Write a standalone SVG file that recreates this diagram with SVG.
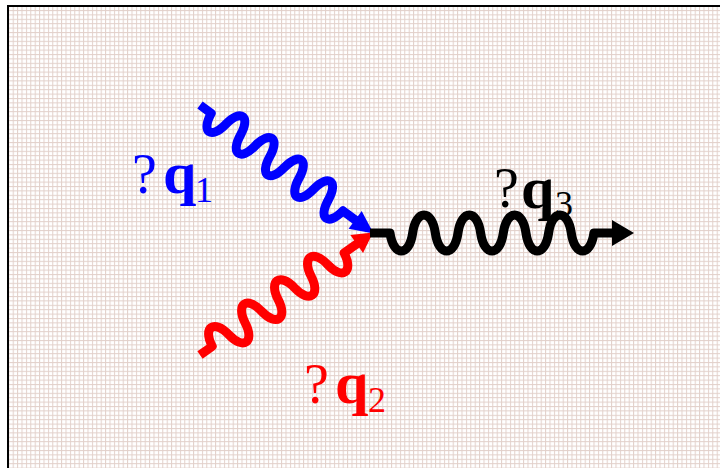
<svg xmlns="http://www.w3.org/2000/svg" width="720" height="468" viewBox="0 0 720 468">
  <defs>
    <!-- fine graph-paper background -->
    <pattern id="grid" x="8.3" y="5.6" width="4.4" height="4.4" patternUnits="userSpaceOnUse">
      <rect width="4.4" height="4.4" fill="#ffffff"/>
      <rect x="0" y="0" width="1" height="4.4" fill="#e2d0ca"/>
      <rect x="0" y="0" width="4.4" height="1" fill="#e2d0ca"/>
    </pattern>
  </defs>
  <style>
    .wave { fill: none; stroke-width: 9; stroke-linejoin: round; stroke-linecap: butt; }
    .lbl { font-family: "Liberation Serif", "Times New Roman", serif; font-size: 56px; }
    .q { font-weight: bold; font-size: 60px; }
    .sub { font-size: 36px; }
  </style>

  <rect width="720" height="468" fill="#ffffff"/>
  <rect x="9" y="7" width="711" height="461" fill="url(#grid)"/>
  <!-- frame: top and left edges -->
  <rect x="7" y="5" width="713" height="2" fill="#000"/>
  <rect x="7" y="5" width="2" height="463" fill="#000"/>

  <g id="connectors">
    <!-- incoming photon q1 -->
    <g id="wave-q1" transform="translate(200,105) rotate(36.5)">
      <path class="wave" stroke="#0000ff" d="M0,0 H14
        c2.7,21.3 15.5,21.3 18.2,0
        c2.7,-21.3 15.5,-21.3 18.2,0
        c2.7,21.3 15.5,21.3 18.2,0
        c2.7,-21.3 15.5,-21.3 18.2,0
        c2.7,21.3 15.5,21.3 18.2,0
        c2.7,-21.3 15.5,-21.3 18.2,0
        c2.7,21.3 15.5,21.3 18.2,0
        c2.7,-21.3 15.5,-21.3 18.2,0
        c2.7,21.3 15.5,21.3 18.2,0
        H196"/>
      <polygon points="193,-11 216,0 193,11" fill="#0000ff"/>
    </g>
    <!-- incoming photon q2 -->
    <g id="wave-q2" transform="translate(200,355) rotate(-35.3)">
      <path class="wave" stroke="#ff0000" d="M0,0 H15
        c3,-21.3 17.2,-21.3 20.2,0
        c3,21.3 17.2,21.3 20.2,0
        c3,-21.3 17.2,-21.3 20.2,0
        c3,21.3 17.2,21.3 20.2,0
        c3,-21.3 17.2,-21.3 20.2,0
        c3,21.3 17.2,21.3 20.2,0
        c3,-21.3 17.2,-21.3 20.2,0
        c3,21.3 17.2,21.3 20.2,0
        H194"/>
      <polygon points="192,-11 212,0 192,11" fill="#ff0000"/>
    </g>
    <!-- outgoing photon q3 -->
    <g id="wave-q3">
      <path class="wave" stroke="#000000" stroke-width="8.5" d="M370,233 H390
        c3.4,24 19.26,24 22.66,0
        c3.4,-24 19.26,-24 22.66,0
        c3.4,24 19.26,24 22.66,0
        c3.4,-24 19.26,-24 22.66,0
        c3.4,24 19.26,24 22.66,0
        c3.4,-24 19.26,-24 22.66,0
        c3.4,24 19.26,24 22.66,0
        c3.4,-24 19.26,-24 22.66,0
        c3.4,24 19.26,24 22.66,0
        H614"/>
      <polygon points="612,220 634,233 612,246" fill="#000000"/>
    </g>
  </g>

  <g id="label-q1" class="lbl" fill="#0000ff">
    <text x="132" y="193">?</text>
    <text x="163" y="193" class="q">q</text>
    <text x="195" y="202" class="sub">1</text>
  </g>
  <g id="label-q2" class="lbl" fill="#ff0000">
    <text x="304" y="403">?</text>
    <text x="335" y="403" class="q">q</text>
    <text x="368" y="412" class="sub">2</text>
  </g>
  <g id="label-q3" class="lbl" fill="#000000">
    <text x="494" y="207">?</text>
    <text x="521" y="208" class="q">q</text>
    <text x="555" y="216" class="sub">3</text>
  </g>
</svg>
